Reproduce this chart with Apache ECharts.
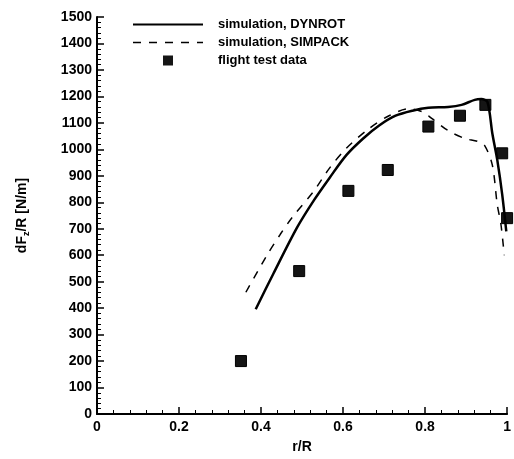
<!DOCTYPE html>
<html>
<head>
<meta charset="utf-8">
<script src="https://cdn.jsdelivr.net/npm/echarts@6/dist/echarts.min.js"></script>
<style>
  html, body { margin: 0; padding: 0; background: #fff; }
  #main { width: 514px; height: 459px; }
</style>
</head>
<body>
<div id="main"></div>
<script>
// r/R positions and dF_z/R values
var dynrotX = [0.387, 0.43, 0.488, 0.53, 0.567, 0.608, 0.649, 0.688, 0.728, 0.769, 0.808, 0.856, 0.889, 0.921, 0.937, 0.952, 0.964, 0.976, 0.988, 0.998];
var dynrotY = [396, 530, 705, 810, 892, 978, 1041, 1090, 1127, 1146, 1157, 1160, 1168, 1187, 1190, 1179, 1060, 960, 830, 690];

var simpackX = [0.363, 0.416, 0.447, 0.476, 0.529, 0.567, 0.608, 0.663, 0.712, 0.76, 0.793, 0.817, 0.856, 0.897, 0.928, 0.945, 0.964, 0.976, 0.985, 0.993];
var simpackY = [460, 604, 679, 743, 843, 929, 1004, 1078, 1127, 1153, 1142, 1116, 1071, 1041, 1030, 1015, 940, 791, 716, 600];

var flightX = [0.351, 0.493, 0.613, 0.709, 0.808, 0.885, 0.947, 0.988, 1.0];
var flightY = [200, 540, 843, 922, 1086, 1127, 1168, 985, 740];

var seriesNames = ['simulation, DYNROT', 'simulation, SIMPACK', 'flight test data'];

function pairs(xs, ys) {
    var out = [];
    for (var i = 0; i < xs.length; i++) out.push([xs[i], ys[i]]);
    return out;
}

var font = 'Liberation Sans, Arial, sans-serif';

// legend icons: solid stroke, dashed stroke, small square
var iconSolid = 'path://M0,0H70V2.2H0Z';
var iconDashed = 'path://M0,0H8V1.5H0Z M16,0H24V1.5H16Z M32,0H40V1.5H32Z M48,0H56V1.5H48Z M64,0H70V1.5H64Z';
var iconSquare = 'path://M0,0H10V10H0Z';

var myChart = echarts.init(document.getElementById('main'));
var option = {
    animation: false,
    grid: { left: 97, right: 1, top: 17, bottom: 40 },
    legend: {
        orient: 'vertical',
        left: 133,
        top: 18,
        padding: 0,
        itemWidth: 70,
        itemHeight: 10,
        itemGap: 5,
        data: [
            { name: seriesNames[0], icon: iconSolid },
            { name: seriesNames[1], icon: iconDashed },
            { name: seriesNames[2], icon: iconSquare, itemStyle: { borderWidth: 0 } }
        ],
        textStyle: {
            fontFamily: font, fontWeight: 'bold', fontSize: 13, color: '#000',
            lineHeight: 13, padding: [0, 0, 0, 10]
        }
    },
    xAxis: {
        type: 'value',
        min: 0, max: 1, interval: 0.2,
        name: 'r/R',
        nameLocation: 'middle',
        nameGap: 26,
        nameTextStyle: { fontFamily: font, fontWeight: 'bold', fontSize: 14, color: '#000' },
        axisLine: { lineStyle: { color: '#000', width: 2 } },
        axisTick: { inside: true, length: 7, lineStyle: { color: '#000', width: 1.5 } },
        minorTick: { show: true, splitNumber: 5, length: 4, lineStyle: { color: '#000' } },
        splitLine: { show: false },
        axisLabel: {
            fontFamily: font, fontWeight: 'bold', fontSize: 14, color: '#000', margin: 6,
            formatter: function (v) { return v === 0 || v === 1 ? String(v) : v.toFixed(1); }
        }
    },
    yAxis: {
        type: 'value',
        min: 0, max: 1500, interval: 100,
        name: '{a|dF}{s|z}{a|/R [N/m]}',
        nameLocation: 'middle',
        nameRotate: 90,
        nameGap: 66,
        nameTextStyle: {
            rich: {
                a: { fontFamily: font, fontWeight: 'bold', fontSize: 14, color: '#000', lineHeight: 18 },
                s: { fontFamily: font, fontWeight: 'bold', fontSize: 9, color: '#000', lineHeight: 18, verticalAlign: 'bottom', padding: [6, 0, 0, 0] }
            }
        },
        axisLine: { show: true, lineStyle: { color: '#000', width: 2 } },
        axisTick: { show: true, inside: true, length: 7, lineStyle: { color: '#000', width: 1.5 } },
        minorTick: { show: true, splitNumber: 5, length: 4, lineStyle: { color: '#000' } },
        splitLine: { show: false },
        axisLabel: {
            fontFamily: font, fontWeight: 'bold', fontSize: 14, color: '#000', margin: 5,
            formatter: function (v) { return String(v); }
        }
    },
    series: [
        {
            name: seriesNames[0],
            type: 'line',
            data: pairs(dynrotX, dynrotY),
            symbol: 'none',
            smooth: 0.3,
            lineStyle: { color: '#000', width: 2.5 },
            itemStyle: { color: '#000' }
        },
        {
            name: seriesNames[1],
            type: 'line',
            data: pairs(simpackX, simpackY),
            symbol: 'none',
            smooth: 0.3,
            lineStyle: { color: '#000', width: 1.5, type: [8, 8] },
            itemStyle: { color: '#000' }
        },
        {
            name: seriesNames[2],
            type: 'scatter',
            data: pairs(flightX, flightY),
            symbol: 'rect',
            symbolSize: 11,
            clip: false,
            itemStyle: { color: '#151515', opacity: 1, borderColor: '#000', borderWidth: 1 }
        }
    ]
};
myChart.setOption(option);
</script>
</body>
</html>
